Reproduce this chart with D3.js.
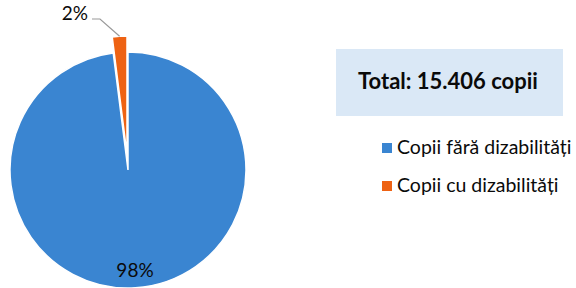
<!DOCTYPE html>
<html><head><meta charset="utf-8">
<script src="https://cdn.jsdelivr.net/npm/d3@7"></script>
<style>body{margin:0;background:#fff;}svg{display:block;}</style>
</head><body>
<script>
const categories = ["Copii fără dizabilități", "Copii cu dizabilități"];
const values = [98, 2];
const labels = ["98%", "2%"];
const totalText = "Total: 15.406 copii";
const colors = ["#3A85D1", "#EE6213"];

const W = 576, H = 288;
const svg = d3.select("body").append("svg").attr("width", W).attr("height", H);
const cx = 128, cy = 170, R = 118, explode = 16;
const font = "Lato, 'Open Sans', sans-serif";

const pie = d3.pie().sort(null).value(d => d)(values);
const arc = d3.arc().innerRadius(0).outerRadius(R);
const g = svg.append("g").attr("transform", `translate(${cx},${cy})`);

pie.forEach((p, i) => {
  const mid = (p.startAngle + p.endAngle) / 2;
  const off = i === 1 ? explode : 0;
  const dx = off * Math.sin(mid), dy = -off * Math.cos(mid);
  g.append("path").attr("d", arc(p)).attr("fill", colors[i])
    .attr("stroke", "#fff").attr("stroke-width", 1.5)
    .attr("transform", `translate(${dx},${dy})`);
});

// 98% label
g.append("text").attr("x", 7).attr("y", 107).attr("text-anchor", "middle")
  .attr("font-family", font).attr("font-size", 19)
  .attr("fill", "#0a0a0a").text(labels[0]);

// 2% label with leader
{
  const p = pie[1];
  const mid = (p.startAngle + p.endAngle) / 2;
  const r0 = R + explode;
  const x0 = r0 * Math.sin(mid), y0 = -r0 * Math.cos(mid);
  const pts = [[x0, y0], [100 - cx, 19 - cy], [92 - cx, 19 - cy]];
  g.append("path").attr("d", d3.line()(pts)).attr("fill", "none")
    .attr("stroke", "#999").attr("stroke-width", 1.2);
  g.append("text").attr("x", 88 - cx).attr("y", 20 - cy).attr("text-anchor", "end")
    .attr("font-family", font).attr("font-size", 19)
    .attr("fill", "#0a0a0a").text(labels[1]);
}

// Total box
svg.append("rect").attr("x", 336).attr("y", 49).attr("width", 227).attr("height", 67).attr("fill", "#DAE8F6");
svg.append("text").attr("x", 448).attr("y", 89).attr("text-anchor", "middle")
  .attr("font-family", font).attr("font-weight", "bold").attr("font-size", 22)
  .attr("fill", "#0a0a0a").text(totalText);

// Legend
const lg = svg.append("g");
const legendY = [148, 186];
categories.forEach((c, i) => {
  lg.append("rect").attr("x", 382).attr("y", legendY[i] - 5).attr("width", 10).attr("height", 10).attr("fill", colors[i]);
  lg.append("text").attr("x", 397).attr("y", legendY[i] + 6).attr("font-family", font).attr("font-size", 19.5)
    .attr("fill", "#0a0a0a").text(c);
});
</script>
</body></html>
